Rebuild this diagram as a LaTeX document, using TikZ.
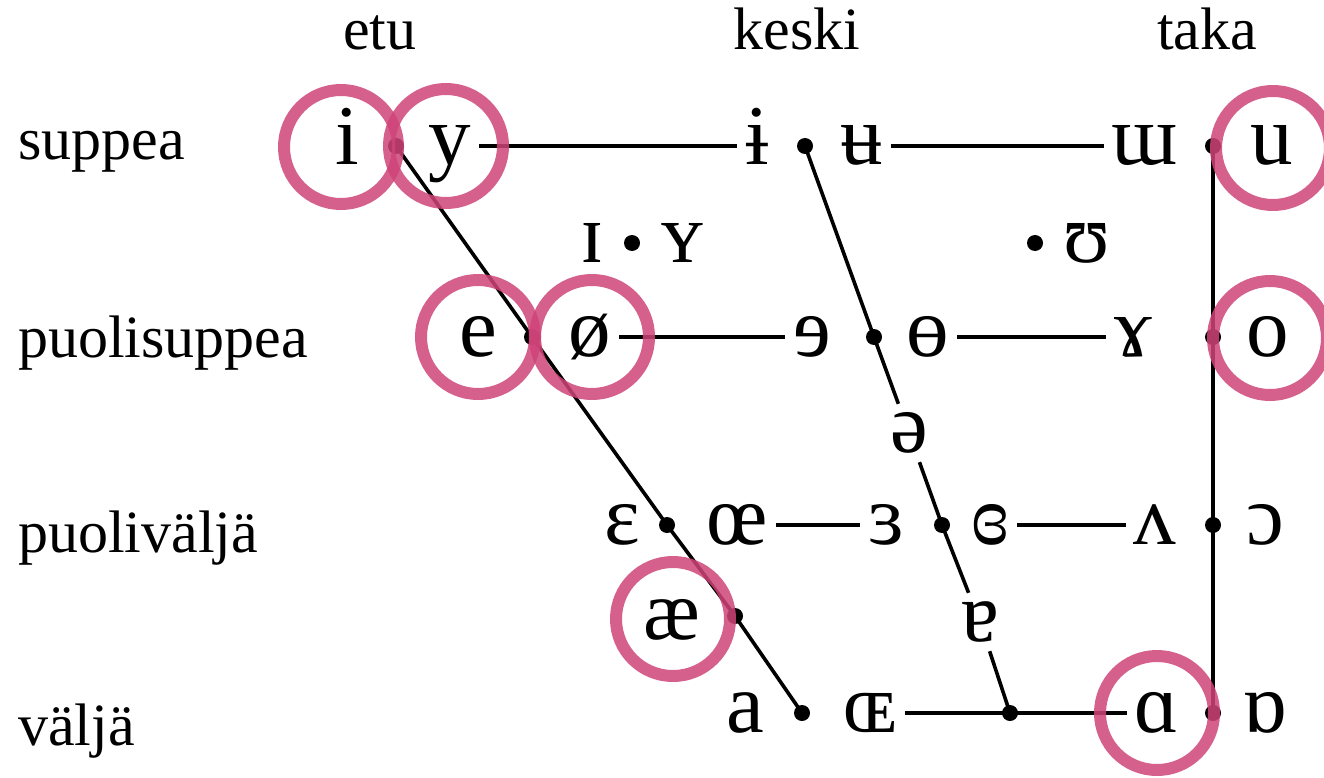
\documentclass[tikz,border=0pt]{standalone}
\usepackage{fontspec}
\setmainfont{Liberation Serif}
\definecolor{hl}{RGB}{207,68,120}
\begin{document}
\begin{tikzpicture}[x=1pt,y=-1pt,
  vowel/.style={font=\fontsize{85}{100}\selectfont, text height=38pt, text depth=0pt, inner xsep=8pt, inner ysep=10pt},
  lab/.style={font=\fontsize{60}{72}\selectfont, inner sep=0pt},
  dot/.style={circle, fill=black, inner sep=0pt, minimum size=16pt},
  ln/.style={line width=3.6pt},
  hlc/.style={circle, draw=hl, draw opacity=0.85, line width=12pt, minimum size=114pt, inner sep=0pt}]
\useasboundingbox (0,0) rectangle (1324,778);

% headers
\node[lab, anchor=base] (hetu) at (380,50) {etu};
\node[lab, anchor=base] (hkeski) at (797,50) {keski};
\node[lab, anchor=base] (htaka) at (1207,50) {taka};
% row labels
\node[lab, anchor=base west] (lsup) at (18,160) {suppea};
\node[lab, anchor=base west] (lpsup) at (18,357) {puolisuppea};
\node[lab, anchor=base west] (lpval) at (18,552) {puoliväljä};
\node[lab, anchor=base west] (lval) at (18,745) {väljä};

% dots
\node[dot] (d1f) at (396,146) {};
\node[dot] (d1c) at (805,146) {};
\node[dot] (d1b) at (1213,146) {};
\node[dot] (d2f) at (632,243) {};
\node[dot] (d2b) at (1035,243) {};
\node[dot] (d3f) at (532,337) {};
\node[dot] (d3c) at (874,337) {};
\node[dot] (d3b) at (1213,337) {};
\node[dot] (d4f) at (667,525) {};
\node[dot] (d4c) at (942,525) {};
\node[dot] (d4b) at (1213,525) {};
\node[dot] (d45f) at (735,616) {};
\node[dot] (d5f) at (802,713) {};
\node[dot] (d5c) at (1010,713) {};
\node[dot] (d5b) at (1213,713) {};

% vowels
\node[vowel] (vi) at (347,146) {i};
\node[vowel] (vy) at (450,146) {y};
\node[vowel] (vbi) at (757,146) {ɨ};
\node[vowel] (vbu) at (862,146) {ʉ};
\node[vowel] (vmu) at (1145,146) {ɯ};
\node[vowel] (vu) at (1272,146) {u};

\node[vowel] (vsi) at (592,243) {ɪ};
\node[vowel] (vsy) at (682,243) {ʏ};
\node[vowel] (vsu) at (1087,243) {ʊ};

\node[vowel] (ve) at (478,337) {e};
\node[vowel] (voe) at (590,337) {ø};
\node[vowel] (vre) at (812,337) {ɘ};
\node[vowel] (vbo) at (928,337) {ɵ};
\node[vowel] (vga) at (1133,337) {ɤ};
\node[vowel] (vo) at (1268,337) {o};

\node[vowel] (vsch) at (909,433) {ə};

\node[vowel] (veps) at (622,525) {ɛ};
\node[vowel] (voel) at (737,525) {œ};
\node[vowel] (vrev) at (886,525) {ɜ};
\node[vowel] (vcr) at (990,525) {ɞ};
\node[vowel] (vv) at (1155,525) {ʌ};
\node[vowel] (voo) at (1265,525) {ɔ};

\node[vowel] (vae) at (672,620) {æ};
\node[vowel] (vtur) at (980,622) {ɐ};

\node[vowel] (va) at (745,713) {a};
\node[vowel] (voeu) at (870,713) {ɶ};
\node[vowel] (valp) at (1157,713) {ɑ};
\node[vowel] (vtalp) at (1265,713) {ɒ};

% front line
\draw[ln] (d1f.center) -- (d3f.center) -- (d4f.center) -- (d45f.center) -- (d5f.center);
% central line
\draw[ln] (d1c.center) -- (d3c.center) -- (vsch);
\draw[ln] (vsch) -- (d4c.center) -- (vtur);
\draw[ln] (vtur) -- (d5c.center);
% back line
\draw[ln] (d1b.center) -- (d3b.center) -- (d4b.center) -- (d5b.center);

% horizontal lines
\draw[ln] (vy.east) -- (vbi.west);
\draw[ln] (vbu.east) -- (vmu.west);
\draw[ln] (voe.east) -- (vre.west);
\draw[ln] (vbo.east) -- (vga.west);
\draw[ln] (voel.east) -- (vrev.west);
\draw[ln] (vcr.east) -- (vv.west);
\draw[ln] (voeu.east) -- (d5c.center) -- (valp.west);

% highlight circles
\node[hlc] (ci) at (341,147) {};
\node[hlc] (cy) at (446,146) {};
\node[hlc] (ce) at (478,337) {};
\node[hlc] (coe) at (592,337) {};
\node[hlc] (cu) at (1273,148) {};
\node[hlc] (co) at (1270,338) {};
\node[hlc] (cae) at (673,619) {};
\node[hlc] (calp) at (1157,713) {};
\end{tikzpicture}
\end{document}
